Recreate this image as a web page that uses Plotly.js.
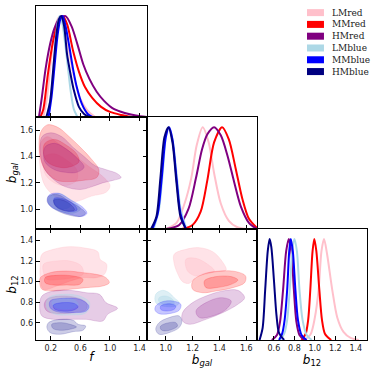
<!DOCTYPE html>
<html>
<head>
<meta charset="utf-8">
<script src="https://cdn.plot.ly/plotly-3.0.1.min.js"></script>
<style>
  html, body { margin: 0; padding: 0; background: #fff; }
  #graph { width: 374px; height: 374px; }
</style>
</head>
<body>
<div id="graph"></div>
<script>
// samples, in drawing order
const samples = ['LMred', 'MMred', 'HMred', 'LMblue', 'MMblue', 'HMblue'];
const lineColors = ['rgb(255,192,203)', 'rgb(255,0,0)', 'rgb(128,0,128)', 'rgb(173,216,230)', 'rgb(0,0,255)', 'rgb(0,0,128)'];
const fillColors = ['rgba(255,192,203,0.45)', 'rgba(255,0,0,0.22)', 'rgba(128,0,128,0.2)', 'rgba(173,216,230,0.4)', 'rgba(0,0,255,0.22)', 'rgba(0,0,128,0.2)'];

// tick values
const fTicks = [0.2, 0.6, 1.0, 1.4];
const bgalTicks = [1.0, 1.2, 1.4, 1.6];
const b12Ticks = [0.6, 0.8, 1.0, 1.2, 1.4];

// 1D marginals (normalised to peak), one list per sample
const fGrid = [
  [0.10, 0.15, 0.20, 0.25, 0.30, 0.34, 0.40, 0.46, 0.52, 0.60, 0.70, 0.80],
  [0.06, 0.10, 0.16, 0.23, 0.30, 0.36, 0.42, 0.50, 0.58, 0.66, 0.76, 0.88, 1.00, 1.15, 1.30],
  [0.04, 0.08, 0.13, 0.19, 0.25, 0.32, 0.40, 0.48, 0.56, 0.64, 0.72, 0.82, 0.92, 1.05, 1.20, 1.35, 1.50],
  [0.15, 0.20, 0.25, 0.29, 0.32, 0.35, 0.39, 0.43, 0.47, 0.51, 0.56],
  [0.17, 0.21, 0.25, 0.29, 0.33, 0.36, 0.40, 0.45, 0.50, 0.55, 0.62, 0.70, 0.76],
  [0.14, 0.19, 0.23, 0.27, 0.31, 0.34, 0.38, 0.42, 0.46, 0.51, 0.58, 0.65, 0.72]
];
const fDens = [
  [0, 0.2, 0.55, 0.85, 0.98, 1.0, 0.85, 0.6, 0.38, 0.18, 0.06, 0],
  [0, 0.08, 0.42, 0.75, 0.95, 1.0, 0.92, 0.66, 0.45, 0.3, 0.19, 0.1, 0.05, 0.02, 0],
  [0, 0.2, 0.48, 0.72, 0.88, 0.98, 1.0, 0.9, 0.72, 0.52, 0.38, 0.25, 0.16, 0.08, 0.04, 0.015, 0],
  [0, 0.2, 0.6, 0.92, 1.0, 0.95, 0.75, 0.5, 0.25, 0.08, 0],
  [0, 0.2, 0.5, 0.8, 0.97, 1.0, 0.9, 0.7, 0.48, 0.3, 0.13, 0.03, 0],
  [0, 0.15, 0.45, 0.78, 0.97, 1.0, 0.9, 0.62, 0.45, 0.27, 0.1, 0.03, 0]
];

const bgalGrid = [
  [1.00, 1.08, 1.14, 1.19, 1.23, 1.275, 1.32, 1.36, 1.41, 1.47, 1.53, 1.60],
  [1.12, 1.20, 1.26, 1.31, 1.36, 1.42, 1.47, 1.52, 1.57, 1.62, 1.68],
  [1.00, 1.10, 1.17, 1.225, 1.27, 1.31, 1.36, 1.41, 1.46, 1.51, 1.56, 1.62, 1.68],
  [0.91, 0.95, 0.98, 1.00, 1.02, 1.05, 1.08, 1.11, 1.15],
  [0.90, 0.94, 0.97, 1.00, 1.025, 1.05, 1.08, 1.11, 1.15],
  [0.89, 0.93, 0.96, 0.99, 1.02, 1.05, 1.08, 1.11, 1.15]
];
const bgalDens = [
  [0, 0.06, 0.25, 0.5, 0.82, 1.0, 0.85, 0.55, 0.25, 0.08, 0.02, 0],
  [0, 0.04, 0.17, 0.48, 0.85, 1.0, 0.88, 0.6, 0.3, 0.1, 0.01],
  [0, 0.04, 0.2, 0.5, 0.78, 0.93, 1.0, 0.92, 0.72, 0.46, 0.22, 0.06, 0],
  [0, 0.2, 0.6, 0.9, 1.0, 0.88, 0.55, 0.2, 0.02],
  [0, 0.15, 0.5, 0.9, 1.0, 0.88, 0.5, 0.15, 0],
  [0, 0.12, 0.5, 0.9, 1.0, 0.85, 0.45, 0.12, 0]
];

const b12Grid = [
  [0.90, 0.96, 1.00, 1.037, 1.065, 1.09, 1.12, 1.17, 1.22, 1.28, 1.35, 1.43],
  [0.87, 0.91, 0.935, 0.956, 0.978, 0.995, 1.015, 1.044, 1.07, 1.10, 1.16],
  [0.58, 0.63, 0.66, 0.69, 0.72, 0.746, 0.77, 0.795, 0.82, 0.85, 0.90],
  [0.66, 0.70, 0.73, 0.755, 0.78, 0.80, 0.825, 0.85, 0.88, 0.92, 0.97],
  [0.65, 0.68, 0.705, 0.73, 0.75, 0.765, 0.785, 0.81, 0.835, 0.87, 0.92],
  [0.46, 0.49, 0.515, 0.54, 0.558, 0.575, 0.60, 0.625, 0.65, 0.70]
];
const b12Dens = [
  [0, 0.06, 0.22, 0.5, 0.88, 1.0, 0.85, 0.5, 0.22, 0.08, 0.02, 0],
  [0, 0.06, 0.2, 0.5, 0.88, 1.0, 0.88, 0.5, 0.2, 0.06, 0],
  [0, 0.05, 0.18, 0.5, 0.88, 1.0, 0.88, 0.5, 0.18, 0.05, 0],
  [0, 0.06, 0.2, 0.5, 0.88, 1.0, 0.88, 0.5, 0.2, 0.05, 0],
  [0, 0.06, 0.2, 0.5, 0.88, 1.0, 0.88, 0.5, 0.2, 0.05, 0],
  [0, 0.12, 0.5, 0.88, 1.0, 0.92, 0.6, 0.25, 0.07, 0]
];

// 2D contours (95% and 68%), [x, y] points per sample
const fBgal95 = [
  [[0.06,1.5],[0.15,1.55],[0.3,1.5],[0.5,1.42],[0.7,1.33],[0.9,1.25],[1.0,1.18],[0.95,1.13],[0.75,1.1],[0.55,1.06],[0.4,1.06],[0.25,1.1],[0.12,1.18],[0.06,1.3]],
  [[0.06,1.58],[0.15,1.64],[0.3,1.62],[0.45,1.55],[0.6,1.47],[0.75,1.38],[0.85,1.3],[0.82,1.24],[0.65,1.22],[0.45,1.21],[0.28,1.22],[0.12,1.3],[0.05,1.42]],
  [[0.08,1.55],[0.2,1.58],[0.35,1.55],[0.5,1.47],[0.65,1.4],[0.8,1.33],[0.95,1.3],[1.1,1.27],[1.15,1.24],[1.05,1.22],[0.9,1.2],[0.75,1.17],[0.6,1.15],[0.4,1.17],[0.25,1.22],[0.12,1.3],[0.06,1.42]],
  [[0.19,1.1],[0.32,1.12],[0.45,1.08],[0.55,1.04],[0.6,1.0],[0.5,0.97],[0.36,0.98],[0.24,1.01],[0.17,1.05]],
  [[0.178,1.109],[0.311,1.121],[0.467,1.071],[0.622,1.02],[0.689,0.97],[0.622,0.945],[0.489,0.957],[0.333,0.983],[0.2,1.02],[0.156,1.063]],
  [[0.17,1.1],[0.3,1.11],[0.45,1.06],[0.6,1.01],[0.67,0.97],[0.6,0.945],[0.45,0.955],[0.32,0.98],[0.2,1.02],[0.15,1.06]]
];
const fBgal68 = [
  [[0.12,1.4],[0.25,1.42],[0.42,1.37],[0.55,1.3],[0.55,1.22],[0.4,1.18],[0.25,1.2],[0.13,1.26],[0.1,1.33]],
  [[0.12,1.5],[0.25,1.53],[0.4,1.49],[0.55,1.42],[0.58,1.36],[0.45,1.32],[0.3,1.32],[0.15,1.36],[0.1,1.43]],
  [[0.12,1.47],[0.25,1.5],[0.4,1.46],[0.55,1.39],[0.65,1.32],[0.55,1.28],[0.4,1.28],[0.25,1.3],[0.12,1.36]],
  [[0.25,1.075],[0.36,1.08],[0.45,1.05],[0.46,1.02],[0.36,1.0],[0.27,1.02]],
  [[0.244,1.083],[0.378,1.078],[0.511,1.038],[0.555,0.995],[0.467,0.982],[0.333,1.002],[0.253,1.038]],
  [[0.24,1.07],[0.36,1.07],[0.48,1.03],[0.52,0.995],[0.44,0.985],[0.32,1.0],[0.25,1.035]]
];

const fB1295 = [
  [[0.08,1.265],[0.236,1.313],[0.458,1.339],[0.68,1.323],[0.835,1.29],[0.866,1.216],[0.955,1.168],[0.924,1.071],[0.813,1.039],[0.635,1.039],[0.458,1.006],[0.28,0.958],[0.102,0.926],[0.058,1.039],[0.058,1.168]],
  [[0.058,1.039],[0.191,1.087],[0.413,1.103],[0.635,1.087],[0.813,1.071],[0.946,1.039],[0.991,0.99],[0.902,0.958],[0.68,0.942],[0.458,0.926],[0.236,0.91],[0.08,0.926],[0.049,0.99]],
  [[0.08,0.861],[0.236,0.91],[0.458,0.916],[0.68,0.893],[0.858,0.877],[0.946,0.797],[1.102,0.742],[0.969,0.684],[0.902,0.619],[0.68,0.635],[0.458,0.635],[0.236,0.635],[0.08,0.668],[0.049,0.764]],
  [[0.169,0.845],[0.369,0.877],[0.591,0.861],[0.724,0.797],[0.68,0.7],[0.458,0.677],[0.236,0.69],[0.147,0.748]],
  [[0.191,0.813],[0.369,0.839],[0.591,0.829],[0.715,0.764],[0.68,0.716],[0.502,0.7],[0.28,0.71],[0.191,0.748]],
  [[0.169,0.603],[0.324,0.635],[0.502,0.626],[0.569,0.587],[0.671,0.571],[0.635,0.529],[0.502,0.516],[0.324,0.49],[0.191,0.506],[0.147,0.555]]
];
const fB1268 = [
  [[0.102,1.168],[0.28,1.2],[0.458,1.2],[0.613,1.152],[0.635,1.071],[0.502,1.039],[0.324,1.023],[0.147,1.023],[0.102,1.087]],
  [[0.124,1.039],[0.28,1.061],[0.502,1.055],[0.635,1.023],[0.591,0.974],[0.413,0.968],[0.236,0.968],[0.124,0.99]],
  [[0.147,0.829],[0.324,0.861],[0.547,0.845],[0.68,0.797],[0.68,0.732],[0.502,0.7],[0.28,0.691],[0.147,0.716],[0.111,0.774]],
  [[0.22,0.81],[0.37,0.835],[0.52,0.82],[0.57,0.78],[0.5,0.745],[0.33,0.74],[0.23,0.77]],
  [[0.236,0.774],[0.369,0.797],[0.524,0.787],[0.569,0.755],[0.502,0.723],[0.347,0.716],[0.245,0.738]],
  [[0.213,0.587],[0.347,0.603],[0.458,0.587],[0.547,0.561],[0.458,0.539],[0.324,0.529],[0.227,0.548]]
];

const bgalB1295 = [
  [[1.0625,1.265],[1.15,1.313],[1.25,1.329],[1.35,1.29],[1.4125,1.21],[1.45,1.113],[1.3875,1.097],[1.2875,1.081],[1.225,1.049],[1.175,0.984],[1.125,1.0],[1.0875,1.081],[1.0625,1.178]],
  [[1.2,1.007],[1.275,1.071],[1.4,1.103],[1.525,1.097],[1.595,1.055],[1.5875,0.99],[1.5,0.942],[1.375,0.91],[1.275,0.893],[1.2,0.926]],
  [[1.125,0.7],[1.2,0.797],[1.3,0.861],[1.425,0.91],[1.5375,0.916],[1.5875,0.845],[1.5375,0.781],[1.425,0.7],[1.3,0.635],[1.175,0.587],[1.125,0.619]],
  [[0.925,0.877],[0.975,0.916],[1.025,0.893],[1.0625,0.845],[1.1,0.797],[1.075,0.764],[0.975,0.764],[0.925,0.797]],
  [[0.925,0.764],[0.975,0.806],[1.05,0.813],[1.1125,0.781],[1.1,0.723],[1.025,0.69],[0.95,0.69],[0.92,0.723]],
  [[0.95,0.603],[1.025,0.652],[1.1,0.668],[1.12,0.619],[1.1,0.555],[1.025,0.506],[0.95,0.49],[0.925,0.539]]
];
const bgalB1268 = [
  [[1.15,1.216],[1.225,1.226],[1.3125,1.168],[1.3625,1.103],[1.2875,1.071],[1.225,1.055],[1.1625,1.103]],
  [[1.2875,1.007],[1.375,1.049],[1.4875,1.049],[1.5375,1.016],[1.4875,0.974],[1.375,0.942],[1.3,0.942]],
  [[1.225,0.716],[1.3,0.797],[1.4125,0.845],[1.4875,0.813],[1.45,0.732],[1.35,0.668],[1.25,0.652]],
  [[0.95,0.845],[1.0,0.861],[1.05,0.829],[1.0625,0.787],[0.9875,0.781],[0.95,0.806]],
  [[0.9625,0.764],[1.025,0.787],[1.075,0.764],[1.0625,0.732],[1.0,0.716],[0.9625,0.732]],
  [[0.9625,0.571],[1.025,0.603],[1.075,0.603],[1.0875,0.571],[1.05,0.539],[0.9875,0.523],[0.9625,0.539]]
];

const traces = [];

function addLines(grid, dens, xa, ya) {
  samples.forEach((s, i) => {
    traces.push({
      x: grid[i], y: dens[i], xaxis: xa, yaxis: ya,
      type: 'scatter', mode: 'lines',
      line: { color: lineColors[i], width: 2, shape: 'spline', smoothing: 0.8 },
      showlegend: false, hoverinfo: 'skip'
    });
  });
}

function addContours(outer, inner, xa, ya) {
  samples.forEach((s, i) => {
    [outer[i], inner[i]].forEach(pts => {
      const xs = pts.map(p => p[0]).concat([pts[0][0]]);
      const ys = pts.map(p => p[1]).concat([pts[0][1]]);
      traces.push({
        x: xs, y: ys, xaxis: xa, yaxis: ya,
        type: 'scatter', mode: 'lines', fill: 'toself',
        fillcolor: fillColors[i],
        line: { color: fillColors[i], width: 0.8, shape: 'spline', smoothing: 1 },
        showlegend: false, hoverinfo: 'skip'
      });
    });
  });
}

addLines(fGrid, fDens, 'x', 'y');
addContours(fBgal95, fBgal68, 'x2', 'y2');
addContours(fB1295, fB1268, 'x3', 'y3');
addLines(bgalGrid, bgalDens, 'x4', 'y4');
addContours(bgalB1295, bgalB1268, 'x5', 'y5');
addLines(b12Grid, b12Dens, 'x6', 'y6');

const col = [[0, 0.3353], [0.3353, 0.6677], [0.6677, 1]];
const row = [[0.6677, 1], [0.3323, 0.6677], [0, 0.3323]];
const fRange = [0, 1.5], bgalRange = [0.86, 1.68], b12Range = [0.435, 1.51], diagRange = [0, 1.1];

const tickFont = { family: 'DejaVu Sans', size: 8, color: '#222' };
const titleFont = { family: 'DejaVu Sans', size: 12, color: '#000' };

function axis(domain, anchor, range, ticks, labels, title, mirror) {
  const a = {
    domain: domain, anchor: anchor, range: range,
    showline: true, linecolor: 'black', linewidth: 1.3, mirror: mirror,
    showgrid: false, zeroline: false,
    ticks: ticks ? 'inside' : '', tickvals: ticks || [], ticklen: 4, tickwidth: 1, tickcolor: 'black',
    tickformat: '.1f',
    showticklabels: labels, tickfont: tickFont
  };
  if (title) a.title = { text: title, font: titleFont, standoff: 0 };
  return a;
}

const layout = {
  width: 374, height: 374,
  margin: { l: 36, r: 7, t: 6, b: 34 },
  paper_bgcolor: 'white', plot_bgcolor: 'white',
  showlegend: false,
  xaxis: axis(col[0], 'y', fRange, fTicks, false, null, true),
  yaxis: axis(row[0], 'x', diagRange, null, false, null, true),
  xaxis2: axis(col[0], 'y2', fRange, fTicks, false, null, 'ticks'),
  yaxis2: axis(row[1], 'x2', [0.85, 1.70], bgalTicks, true, '<i>b</i><sub><i>gal</i></sub>', 'ticks'),
  xaxis3: axis(col[0], 'y3', fRange, fTicks, true, '<i>f</i>', 'ticks'),
  yaxis3: axis(row[2], 'x3', b12Range, b12Ticks, true, '<i>b</i><sub>12</sub>', 'ticks'),
  xaxis4: axis(col[1], 'y4', bgalRange, bgalTicks, false, null, true),
  yaxis4: axis(row[1], 'x4', diagRange, null, false, null, true),
  xaxis5: axis(col[1], 'y5', bgalRange, bgalTicks, true, '<i>b</i><sub><i>gal</i></sub>', 'ticks'),
  yaxis5: axis(row[2], 'x5', b12Range, b12Ticks, false, null, 'ticks'),
  xaxis6: axis(col[2], 'y6', b12Range, b12Ticks, true, '<i>b</i><sub>12</sub>', true),
  yaxis6: axis(row[2], 'x6', diagRange, null, false, null, true),
  shapes: [],
  annotations: []
};

// legend drawn by hand (boxes + labels), top right
samples.forEach((s, i) => {
  const yc = 0.9802 - i * 0.0353;
  layout.shapes.push({
    type: 'rect', xref: 'paper', yref: 'paper',
    x0: 0.8187, x1: 0.870, y0: yc - 0.0105, y1: yc + 0.0105,
    fillcolor: lineColors[i], line: { width: 0 }
  });
  layout.annotations.push({
    xref: 'paper', yref: 'paper', x: 0.888, y: yc,
    xanchor: 'left', yanchor: 'middle', showarrow: false,
    text: s, font: { family: 'DejaVu Serif', size: 9, color: '#222' }
  });
});

Plotly.newPlot('graph', traces, layout, { staticPlot: true, displayModeBar: false });
</script>
</body>
</html>
